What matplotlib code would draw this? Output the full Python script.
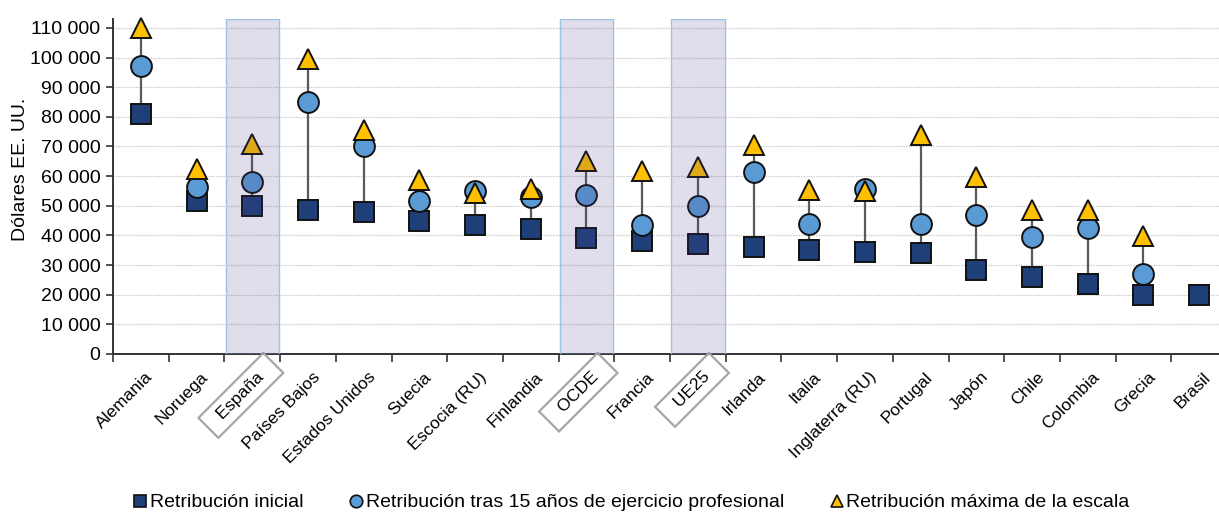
import matplotlib
matplotlib.use("Agg")
import matplotlib.pyplot as plt
from matplotlib.lines import Line2D
from matplotlib.ticker import FuncFormatter, MultipleLocator
import numpy as np

plt.rcParams['font.family'] = ['Liberation Sans', 'DejaVu Sans']

# data (US dollars)
countries = ["Alemania", "Noruega", "España", "Países Bajos", "Estados Unidos",
             "Suecia", "Escocia (RU)", "Finlandia", "OCDE", "Francia", "UE25",
             "Irlanda", "Italia", "Inglaterra (RU)", "Portugal", "Japón",
             "Chile", "Colombia", "Grecia", "Brasil"]
inicial = [81000, 51500, 50000, 48500, 48000, 45000, 43500, 42000, 39000, 38000,
           37000, 36000, 35000, 34500, 34000, 28500, 26000, 23500, 20000, 20000]
tras15 = [97000, 56500, 58000, 85000, 70000, 51500, 55000, 53000, 53500, 43500,
          50000, 61500, 44000, 55500, 44000, 47000, 39500, 42500, 27000, np.nan]
maxima = [110000, 62500, 70800, 99500, 75500, 58700, 54300, 55700, 65100, 61700,
          63100, 70500, 55200, 55000, 73800, 59700, 48600, 48600, 39800, np.nan]
highlight = ["España", "OCDE", "UE25"]

x = np.arange(len(countries))

fig = plt.figure(figsize=(12.19, 5.14), dpi=100)
ax = fig.add_axes([113 / 1219, 160 / 514, 1114 / 1219, 335 / 514])

# vertical range line from lowest to highest value
for i in range(len(countries)):
    vals = [v for v in (inicial[i], tras15[i], maxima[i]) if not np.isnan(v)]
    if len(vals) > 1:
        ax.plot([x[i], x[i]], [min(vals), max(vals)], color="#5a5a5a", lw=1.6, zorder=2)

ax.plot(x, inicial, ls="none", marker="s", ms=14.5, mfc="#1f3f78", mec="#111111",
        mew=1.4, zorder=3, clip_on=False)
ax.plot(x, tras15, ls="none", marker="o", ms=15, mfc="#5b9bd5", mec="#111111",
        mew=1.4, zorder=4, clip_on=False)
ax.plot(x, maxima, ls="none", marker="^", ms=15, mfc="#ffc000", mec="#111111",
        mew=1.4, zorder=5, clip_on=False)

# shaded bands over the aggregates (drawn on top, semi transparent)
for name in highlight:
    i = countries.index(name)
    ax.axvspan(i - 0.48, i + 0.48, facecolor="#4b3c8c", alpha=0.17,
               edgecolor="none", zorder=6)
    ax.axvspan(i - 0.48, i + 0.48, facecolor="none",
               edgecolor="#9dc3e6", lw=1.0, zorder=6)

ax.set_xlim(-0.5, len(countries) - 0.5)
ax.set_ylim(0, 113000)
ax.yaxis.set_major_locator(MultipleLocator(10000))
ax.yaxis.set_major_formatter(FuncFormatter(lambda v, p: f"{int(v):,}".replace(",", " ")))
ax.tick_params(axis="y", labelsize=14, length=5, width=1.2, color="#333333", pad=4)
ax.grid(axis="y", ls=(0, (1, 1)), color="#c4c4c4", lw=0.9, zorder=0)
ax.set_axisbelow(True)
ax.set_ylabel("Dólares EE. UU.", fontsize=14)
ax.yaxis.set_label_coords(-0.0754, 0.552)

ax.set_xticks(x)
ax.set_xticklabels([])
ax.tick_params(axis="x", which="major", length=0)
ax.set_xticks(np.arange(-0.5, len(countries), 1), minor=True)
ax.tick_params(axis="x", which="minor", length=6, width=1.2, color="#333333")

for sp in ["top", "right"]:
    ax.spines[sp].set_visible(False)
for sp in ["left", "bottom"]:
    ax.spines[sp].set_color("#333333")
    ax.spines[sp].set_linewidth(1.4)

# rotated category labels; aggregates get a grey frame
for i, name in enumerate(countries):
    if name in highlight:
        ax.annotate("  " + name + "  ", xy=(x[i], 0), xytext=(3 + 5, -11 + 5),
                    textcoords="offset points", rotation=45, ha="right", va="top",
                    rotation_mode="anchor", fontsize=12.5, annotation_clip=False,
                    bbox=dict(boxstyle="square,pad=0.38", fc="none", ec="#a6a6a6", lw=1.6))
    else:
        ax.annotate(name, xy=(x[i], 0), xytext=(3, -11), textcoords="offset points",
                    rotation=45, ha="right", va="top", rotation_mode="anchor",
                    fontsize=12.5, annotation_clip=False)

handles = [
    Line2D([], [], ls="none", marker="s", ms=9, mfc="#1f3f78", mec="#111111", mew=1.2),
    Line2D([], [], ls="none", marker="o", ms=9, mfc="#5b9bd5", mec="#111111", mew=1.2),
    Line2D([], [], ls="none", marker="^", ms=9, mfc="#ffc000", mec="#111111", mew=1.2),
]
labels = ["Retribución inicial",
          "Retribución tras 15 años de ejercicio profesional",
          "Retribución máxima de la escala"]
fig.legend(handles, labels, loc="center", bbox_to_anchor=(0.518, 0.022), ncol=3,
           frameon=False, fontsize=14, handlelength=0.7, handletextpad=0.15,
           columnspacing=2.36)

fig.savefig("out.png", dpi=100)
